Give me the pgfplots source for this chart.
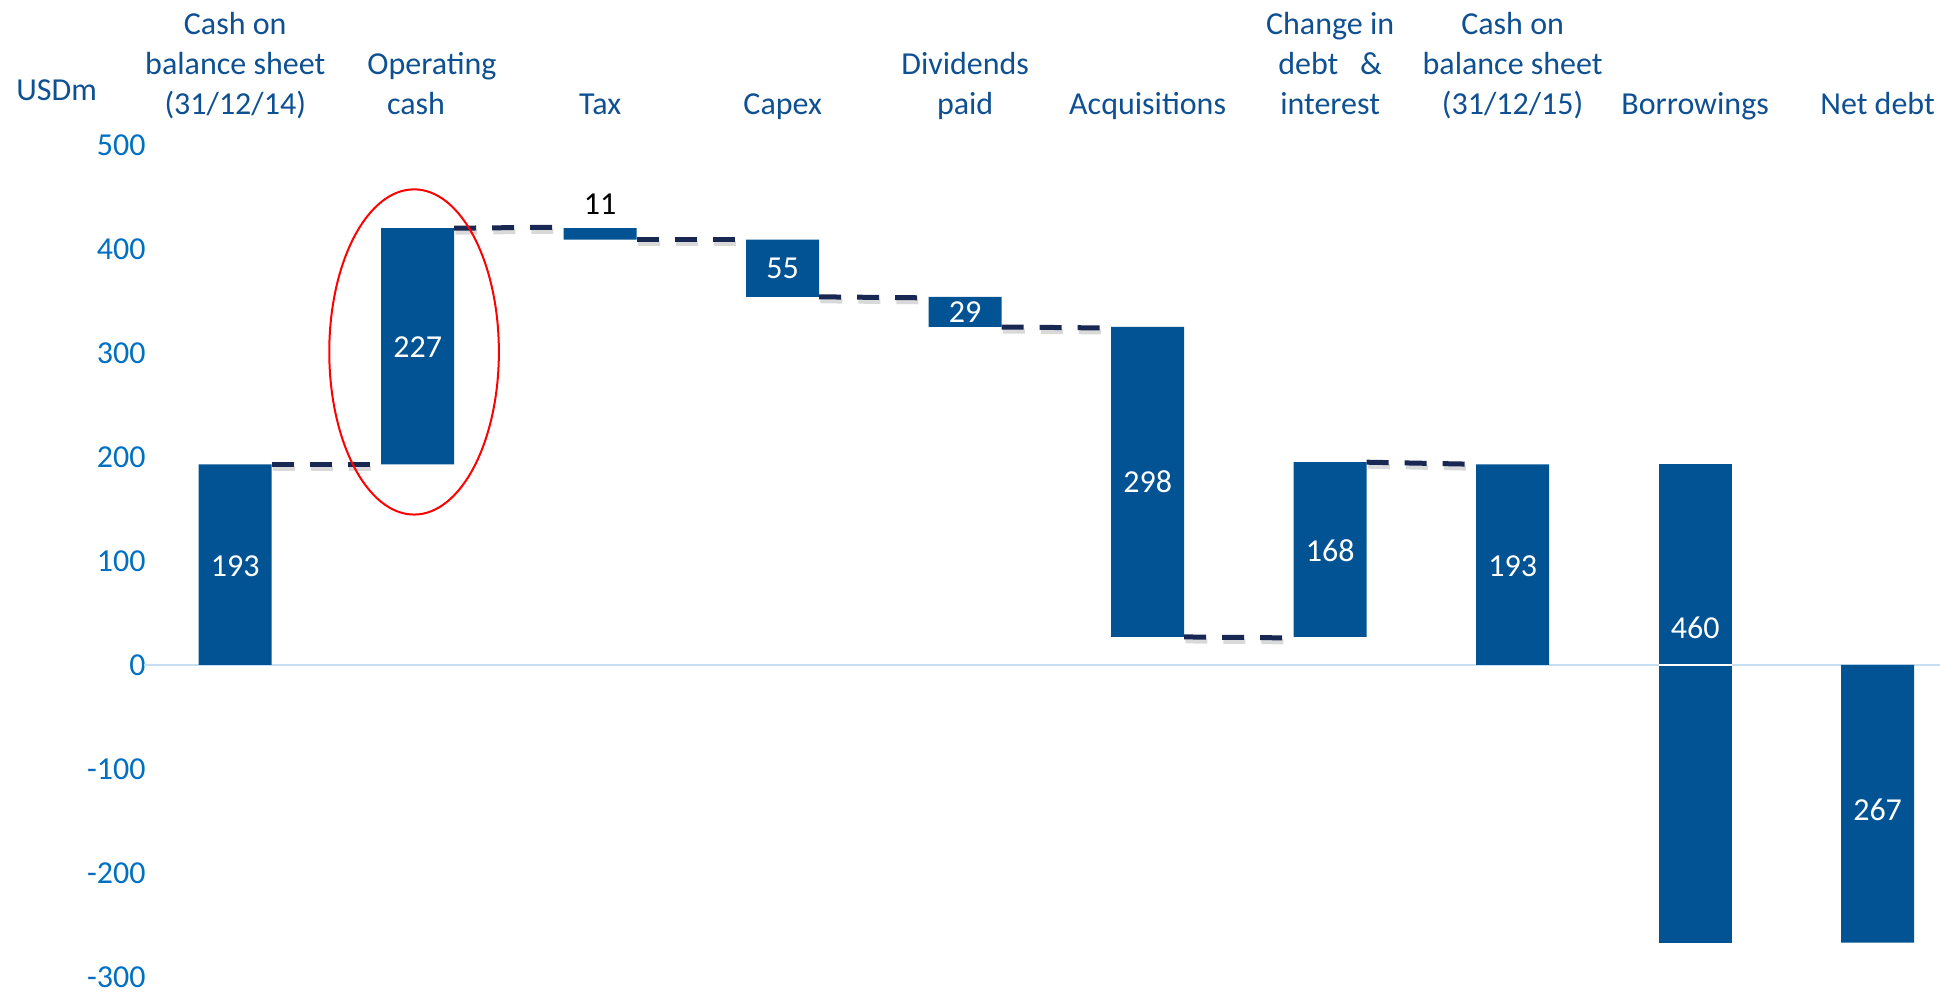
\documentclass[border=0pt]{standalone}
\usepackage{fontspec}
\setmainfont{Carlito}
\usepackage{pgfplots}
\pgfplotsset{compat=1.18}
\definecolor{barblue}{RGB}{2,83,148}
\definecolor{tickblue}{RGB}{0,112,192}
\definecolor{catblue}{RGB}{14,80,146}
\definecolor{connavy}{RGB}{24,40,82}
\definecolor{zeroblue}{RGB}{197,224,245}
\begin{document}
\begin{tikzpicture}
\pgfplotsset{common/.style={width=898pt,height=416pt,scale only axis,xmin=-0.5,xmax=9.342,ymin=-300,ymax=500,clip=false}}
\begin{axis}[common, name=ax1, ybar stacked, bar width=0.4,
 axis line style={draw=none}, tick style={draw=none}, xtick=\empty,
 ytick={-300,-200,...,500}, yticklabels={-300,-200,-100,0,100,200,300,400,500},
 yticklabel style={font=\fontsize{16}{19}\selectfont, text=tickblue, anchor=east, inner sep=0pt, xshift=1pt},
 extra y ticks={0}, extra y tick labels={},
 extra y tick style={grid=major, major grid style={zeroblue, line width=1.2pt}},
]
% invisible bases
\addplot[draw=none, fill=none] coordinates {(0,0)(1,193)(2,409)(3,354)(4,325)(5,27)(6,27)(7,0)(8,0)(9,0)};
% visible increments
\addplot[draw=none, fill=barblue] coordinates {(0,193)(1,227)(2,11)(3,55)(4,29)(5,298)(6,168)(7,193)(8,0)(9,-267)};
\end{axis}
\begin{axis}[common, at={(ax1.south west)}, anchor=south west, hide axis,
 conshadow/.style={gray, opacity=0.3, line width=2.5pt, dash pattern=on 11pt off 8pt, xshift=0.6pt, yshift=-2pt, forget plot},
 con/.style={connavy, line width=2.5pt, dash pattern=on 11pt off 8pt, forget plot}]
% Borrowings: -267 to 193 (460)
\addplot[ybar, bar width=0.4, bar shift=0pt, draw=none, fill=barblue, forget plot] coordinates {(8,193)};
\addplot[ybar, bar width=0.4, bar shift=0pt, draw=none, fill=barblue, forget plot] coordinates {(8,-267)};
\addplot[white, line width=1pt, forget plot] coordinates {(7.8,0)(8.2,0)};
% connectors
\addplot[conshadow] coordinates {(0.2,193)(0.8,193)};
\addplot[conshadow] coordinates {(1.2,420)(1.8,421)};
\addplot[conshadow] coordinates {(2.2,409)(2.8,409)};
\addplot[conshadow] coordinates {(3.2,354)(3.8,353)};
\addplot[conshadow] coordinates {(4.2,325)(4.8,324)};
\addplot[conshadow] coordinates {(5.2,27)(5.8,26)};
\addplot[conshadow] coordinates {(6.2,195)(6.8,193)};
\addplot[con] coordinates {(0.2,193)(0.8,193)};
\addplot[con] coordinates {(1.2,420)(1.8,421)};
\addplot[con] coordinates {(2.2,409)(2.8,409)};
\addplot[con] coordinates {(3.2,354)(3.8,353)};
\addplot[con] coordinates {(4.2,325)(4.8,324)};
\addplot[con] coordinates {(5.2,27)(5.8,26)};
\addplot[con] coordinates {(6.2,195)(6.8,193)};
\draw[red, line width=1pt] (axis cs:0.98,301) ellipse [x radius=42.4pt, y radius=81.3pt];
\tikzset{val/.style={font=\fontsize{16}{19}\selectfont, text=white, inner sep=0pt}}
\node[val] at (axis cs:0,95) {193};
\node[val] at (axis cs:1,306) {227};
\node[val, text=black] at (axis cs:2,443) {11};
\node[val] at (axis cs:3,381) {55};
\node[val] at (axis cs:4,339) {29};
\node[val] at (axis cs:5,176) {298};
\node[val] at (axis cs:6,110) {168};
\node[val] at (axis cs:7,95) {193};
\node[val] at (axis cs:8,36) {460};
\node[val] at (axis cs:9,-139) {267};
\tikzset{cat/.style={font=\fontsize{16}{19.8}\selectfont, text=catblue, inner sep=0pt, text depth=0pt, anchor=south, align=center}}
\node[cat] at (axis cs:0,529.3) {Cash on\\balance sheet\\(31/12/14)};
\node[cat] at (axis cs:1.078,529.3) {Operating\\cash\hspace*{16pt}};
\node[cat] at (axis cs:2,529.3) {Tax};
\node[cat] at (axis cs:3,529.3) {Capex};
\node[cat] at (axis cs:4,529.3) {Dividends\\paid};
\node[cat] at (axis cs:5,529.3) {Acquisitions};
\node[cat] at (axis cs:6,529.3) {Change in\\debt\ \ \ \&\\interest};
\node[cat] at (axis cs:7,529.3) {Cash on\\balance sheet\\(31/12/15)};
\node[cat] at (axis cs:8,529.3) {Borrowings};
\node[cat] at (axis cs:9,529.3) {Net debt};
\node[font=\fontsize{16}{19}\selectfont, text=catblue, inner sep=0pt, anchor=west, xshift=-64pt, yshift=27.6pt] at (axis cs:-0.5,500) {USDm};
\end{axis}
\pgfresetboundingbox
\path[use as bounding box] ([xshift=-72pt,yshift=-8pt]ax1.south west) rectangle ([yshift=72.5pt]ax1.north east);
\end{tikzpicture}
\end{document}
